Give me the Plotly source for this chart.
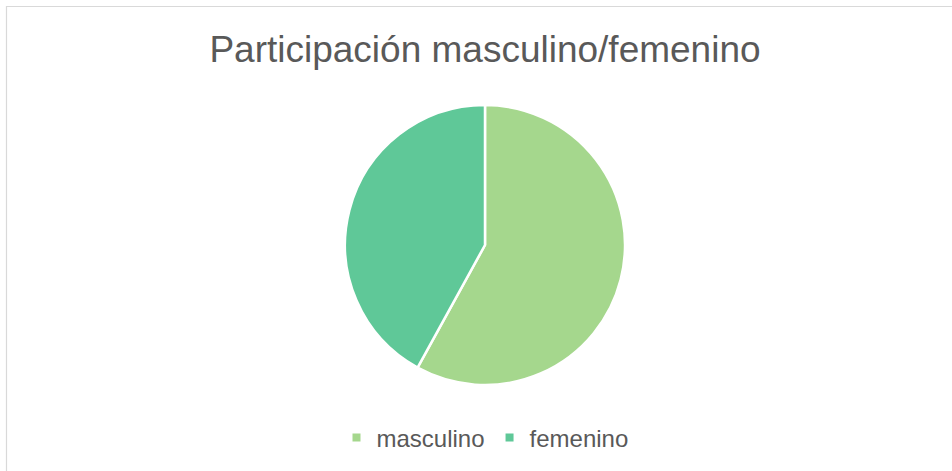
import plotly.graph_objects as go

labels = ["masculino", "femenino"]
values = [58, 42]
colors = ["#A5D78D", "#5FC898"]
title_text = "Participación masculino/femenino"

W, H = 952, 471
font = "Liberation Sans, Arial, sans-serif"

fig = go.Figure()
fig.add_trace(go.Pie(
    labels=labels, values=values, sort=False, direction="clockwise", rotation=0,
    marker=dict(colors=colors, line=dict(color="white", width=2.5)),
    textinfo="none", hoverinfo="label+percent", showlegend=False,
    domain=dict(x=[345 / W, 625 / W], y=[(H - 386) / H, (H - 104) / H]),
))
for lab, col in zip(labels, colors):
    fig.add_trace(go.Scatter(
        x=[None], y=[None], mode="markers", name=lab,
        marker=dict(symbol="square", size=8, color=col),
        showlegend=True,
    ))

fig.update_layout(
    width=W, height=H,
    margin=dict(l=0, r=0, t=0, b=0),
    paper_bgcolor="white", plot_bgcolor="white",
    font=dict(family=font, color="#595959"),
    title=dict(text=title_text, x=485 / W, xanchor="center",
               y=1 - 49 / H, yanchor="middle", yref="container",
               font=dict(size=37, color="#595959", family=font)),
    xaxis=dict(visible=False), yaxis=dict(visible=False),
    legend=dict(orientation="h", x=485 / W, xanchor="center",
                y=1 - 438 / H, yanchor="middle",
                font=dict(size=24, color="#595959", family=font),
                itemwidth=30, bgcolor="rgba(0,0,0,0)"),
    shapes=[dict(type="rect", xref="paper", yref="paper",
                 x0=6.5 / W, x1=1.05, y0=-0.05, y1=1 - 6.5 / H,
                 line=dict(color="#D9D9D9", width=1.2))],
)

fig.write_html("out.html", config={"displayModeBar": False},
               post_script="document.body.style.margin='0';document.body.style.padding='0';")
